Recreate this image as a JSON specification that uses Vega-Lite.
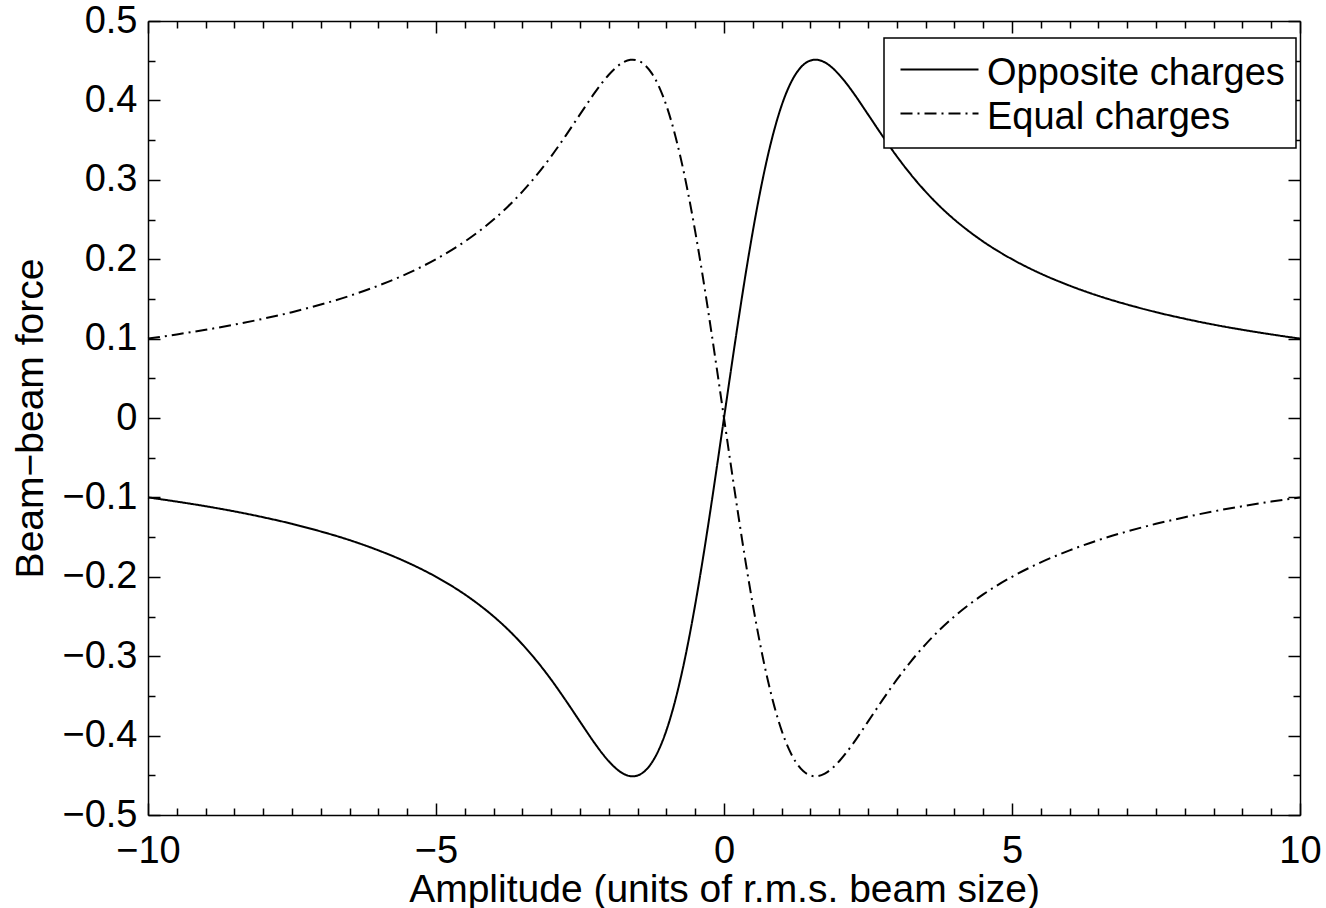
{
  "$schema": "https://vega.github.io/schema/vega-lite/v6.json",
  "width": 1152,
  "height": 794,
  "autosize": {"type": "none"},
  "padding": {"left": 148, "top": 21, "right": 26, "bottom": 93},
  "background": "white",
  "datasets": {
    "curves": [
      {"x": -10, "y": -0.1, "s": "Opposite charges"},
      {"x": -9.5, "y": -0.1053, "s": "Opposite charges"},
      {"x": -9, "y": -0.1111, "s": "Opposite charges"},
      {"x": -8.5, "y": -0.1176, "s": "Opposite charges"},
      {"x": -8, "y": -0.125, "s": "Opposite charges"},
      {"x": -7.5, "y": -0.1333, "s": "Opposite charges"},
      {"x": -7, "y": -0.1429, "s": "Opposite charges"},
      {"x": -6.5, "y": -0.1538, "s": "Opposite charges"},
      {"x": -6, "y": -0.1667, "s": "Opposite charges"},
      {"x": -5.5, "y": -0.1818, "s": "Opposite charges"},
      {"x": -5, "y": -0.2, "s": "Opposite charges"},
      {"x": -4.5, "y": -0.2222, "s": "Opposite charges"},
      {"x": -4.25, "y": -0.2353, "s": "Opposite charges"},
      {"x": -4, "y": -0.2499, "s": "Opposite charges"},
      {"x": -3.75, "y": -0.2664, "s": "Opposite charges"},
      {"x": -3.5, "y": -0.2851, "s": "Opposite charges"},
      {"x": -3.25, "y": -0.3061, "s": "Opposite charges"},
      {"x": -3, "y": -0.3296, "s": "Opposite charges"},
      {"x": -2.75, "y": -0.3554, "s": "Opposite charges"},
      {"x": -2.5, "y": -0.3824, "s": "Opposite charges"},
      {"x": -2.25, "y": -0.4091, "s": "Opposite charges"},
      {"x": -2.125, "y": -0.4214, "s": "Opposite charges"},
      {"x": -2, "y": -0.4323, "s": "Opposite charges"},
      {"x": -1.875, "y": -0.4414, "s": "Opposite charges"},
      {"x": -1.75, "y": -0.4479, "s": "Opposite charges"},
      {"x": -1.625, "y": -0.4511, "s": "Opposite charges"},
      {"x": -1.585, "y": -0.4513, "s": "Opposite charges"},
      {"x": -1.5, "y": -0.4502, "s": "Opposite charges"},
      {"x": -1.375, "y": -0.4447, "s": "Opposite charges"},
      {"x": -1.25, "y": -0.4337, "s": "Opposite charges"},
      {"x": -1.125, "y": -0.4168, "s": "Opposite charges"},
      {"x": -1, "y": -0.3935, "s": "Opposite charges"},
      {"x": -0.875, "y": -0.3635, "s": "Opposite charges"},
      {"x": -0.75, "y": -0.3269, "s": "Opposite charges"},
      {"x": -0.625, "y": -0.2839, "s": "Opposite charges"},
      {"x": -0.5, "y": -0.235, "s": "Opposite charges"},
      {"x": -0.375, "y": -0.1811, "s": "Opposite charges"},
      {"x": -0.25, "y": -0.1231, "s": "Opposite charges"},
      {"x": -0.125, "y": -0.0623, "s": "Opposite charges"},
      {"x": 0, "y": 0, "s": "Opposite charges"},
      {"x": 0.125, "y": 0.0623, "s": "Opposite charges"},
      {"x": 0.25, "y": 0.1231, "s": "Opposite charges"},
      {"x": 0.375, "y": 0.1811, "s": "Opposite charges"},
      {"x": 0.5, "y": 0.235, "s": "Opposite charges"},
      {"x": 0.625, "y": 0.2839, "s": "Opposite charges"},
      {"x": 0.75, "y": 0.3269, "s": "Opposite charges"},
      {"x": 0.875, "y": 0.3635, "s": "Opposite charges"},
      {"x": 1, "y": 0.3935, "s": "Opposite charges"},
      {"x": 1.125, "y": 0.4168, "s": "Opposite charges"},
      {"x": 1.25, "y": 0.4337, "s": "Opposite charges"},
      {"x": 1.375, "y": 0.4447, "s": "Opposite charges"},
      {"x": 1.5, "y": 0.4502, "s": "Opposite charges"},
      {"x": 1.585, "y": 0.4513, "s": "Opposite charges"},
      {"x": 1.625, "y": 0.4511, "s": "Opposite charges"},
      {"x": 1.75, "y": 0.4479, "s": "Opposite charges"},
      {"x": 1.875, "y": 0.4414, "s": "Opposite charges"},
      {"x": 2, "y": 0.4323, "s": "Opposite charges"},
      {"x": 2.125, "y": 0.4214, "s": "Opposite charges"},
      {"x": 2.25, "y": 0.4091, "s": "Opposite charges"},
      {"x": 2.5, "y": 0.3824, "s": "Opposite charges"},
      {"x": 2.75, "y": 0.3554, "s": "Opposite charges"},
      {"x": 3, "y": 0.3296, "s": "Opposite charges"},
      {"x": 3.25, "y": 0.3061, "s": "Opposite charges"},
      {"x": 3.5, "y": 0.2851, "s": "Opposite charges"},
      {"x": 3.75, "y": 0.2664, "s": "Opposite charges"},
      {"x": 4, "y": 0.2499, "s": "Opposite charges"},
      {"x": 4.25, "y": 0.2353, "s": "Opposite charges"},
      {"x": 4.5, "y": 0.2222, "s": "Opposite charges"},
      {"x": 5, "y": 0.2, "s": "Opposite charges"},
      {"x": 5.5, "y": 0.1818, "s": "Opposite charges"},
      {"x": 6, "y": 0.1667, "s": "Opposite charges"},
      {"x": 6.5, "y": 0.1538, "s": "Opposite charges"},
      {"x": 7, "y": 0.1429, "s": "Opposite charges"},
      {"x": 7.5, "y": 0.1333, "s": "Opposite charges"},
      {"x": 8, "y": 0.125, "s": "Opposite charges"},
      {"x": 8.5, "y": 0.1176, "s": "Opposite charges"},
      {"x": 9, "y": 0.1111, "s": "Opposite charges"},
      {"x": 9.5, "y": 0.1053, "s": "Opposite charges"},
      {"x": 10, "y": 0.1, "s": "Opposite charges"},
      {"x": -10, "y": 0.1, "s": "Equal charges"},
      {"x": -9.5, "y": 0.1053, "s": "Equal charges"},
      {"x": -9, "y": 0.1111, "s": "Equal charges"},
      {"x": -8.5, "y": 0.1176, "s": "Equal charges"},
      {"x": -8, "y": 0.125, "s": "Equal charges"},
      {"x": -7.5, "y": 0.1333, "s": "Equal charges"},
      {"x": -7, "y": 0.1429, "s": "Equal charges"},
      {"x": -6.5, "y": 0.1538, "s": "Equal charges"},
      {"x": -6, "y": 0.1667, "s": "Equal charges"},
      {"x": -5.5, "y": 0.1818, "s": "Equal charges"},
      {"x": -5, "y": 0.2, "s": "Equal charges"},
      {"x": -4.5, "y": 0.2222, "s": "Equal charges"},
      {"x": -4.25, "y": 0.2353, "s": "Equal charges"},
      {"x": -4, "y": 0.2499, "s": "Equal charges"},
      {"x": -3.75, "y": 0.2664, "s": "Equal charges"},
      {"x": -3.5, "y": 0.2851, "s": "Equal charges"},
      {"x": -3.25, "y": 0.3061, "s": "Equal charges"},
      {"x": -3, "y": 0.3296, "s": "Equal charges"},
      {"x": -2.75, "y": 0.3554, "s": "Equal charges"},
      {"x": -2.5, "y": 0.3824, "s": "Equal charges"},
      {"x": -2.25, "y": 0.4091, "s": "Equal charges"},
      {"x": -2.125, "y": 0.4214, "s": "Equal charges"},
      {"x": -2, "y": 0.4323, "s": "Equal charges"},
      {"x": -1.875, "y": 0.4414, "s": "Equal charges"},
      {"x": -1.75, "y": 0.4479, "s": "Equal charges"},
      {"x": -1.625, "y": 0.4511, "s": "Equal charges"},
      {"x": -1.585, "y": 0.4513, "s": "Equal charges"},
      {"x": -1.5, "y": 0.4502, "s": "Equal charges"},
      {"x": -1.375, "y": 0.4447, "s": "Equal charges"},
      {"x": -1.25, "y": 0.4337, "s": "Equal charges"},
      {"x": -1.125, "y": 0.4168, "s": "Equal charges"},
      {"x": -1, "y": 0.3935, "s": "Equal charges"},
      {"x": -0.875, "y": 0.3635, "s": "Equal charges"},
      {"x": -0.75, "y": 0.3269, "s": "Equal charges"},
      {"x": -0.625, "y": 0.2839, "s": "Equal charges"},
      {"x": -0.5, "y": 0.235, "s": "Equal charges"},
      {"x": -0.375, "y": 0.1811, "s": "Equal charges"},
      {"x": -0.25, "y": 0.1231, "s": "Equal charges"},
      {"x": -0.125, "y": 0.0623, "s": "Equal charges"},
      {"x": 0, "y": 0, "s": "Equal charges"},
      {"x": 0.125, "y": -0.0623, "s": "Equal charges"},
      {"x": 0.25, "y": -0.1231, "s": "Equal charges"},
      {"x": 0.375, "y": -0.1811, "s": "Equal charges"},
      {"x": 0.5, "y": -0.235, "s": "Equal charges"},
      {"x": 0.625, "y": -0.2839, "s": "Equal charges"},
      {"x": 0.75, "y": -0.3269, "s": "Equal charges"},
      {"x": 0.875, "y": -0.3635, "s": "Equal charges"},
      {"x": 1, "y": -0.3935, "s": "Equal charges"},
      {"x": 1.125, "y": -0.4168, "s": "Equal charges"},
      {"x": 1.25, "y": -0.4337, "s": "Equal charges"},
      {"x": 1.375, "y": -0.4447, "s": "Equal charges"},
      {"x": 1.5, "y": -0.4502, "s": "Equal charges"},
      {"x": 1.585, "y": -0.4513, "s": "Equal charges"},
      {"x": 1.625, "y": -0.4511, "s": "Equal charges"},
      {"x": 1.75, "y": -0.4479, "s": "Equal charges"},
      {"x": 1.875, "y": -0.4414, "s": "Equal charges"},
      {"x": 2, "y": -0.4323, "s": "Equal charges"},
      {"x": 2.125, "y": -0.4214, "s": "Equal charges"},
      {"x": 2.25, "y": -0.4091, "s": "Equal charges"},
      {"x": 2.5, "y": -0.3824, "s": "Equal charges"},
      {"x": 2.75, "y": -0.3554, "s": "Equal charges"},
      {"x": 3, "y": -0.3296, "s": "Equal charges"},
      {"x": 3.25, "y": -0.3061, "s": "Equal charges"},
      {"x": 3.5, "y": -0.2851, "s": "Equal charges"},
      {"x": 3.75, "y": -0.2664, "s": "Equal charges"},
      {"x": 4, "y": -0.2499, "s": "Equal charges"},
      {"x": 4.25, "y": -0.2353, "s": "Equal charges"},
      {"x": 4.5, "y": -0.2222, "s": "Equal charges"},
      {"x": 5, "y": -0.2, "s": "Equal charges"},
      {"x": 5.5, "y": -0.1818, "s": "Equal charges"},
      {"x": 6, "y": -0.1667, "s": "Equal charges"},
      {"x": 6.5, "y": -0.1538, "s": "Equal charges"},
      {"x": 7, "y": -0.1429, "s": "Equal charges"},
      {"x": 7.5, "y": -0.1333, "s": "Equal charges"},
      {"x": 8, "y": -0.125, "s": "Equal charges"},
      {"x": 8.5, "y": -0.1176, "s": "Equal charges"},
      {"x": 9, "y": -0.1111, "s": "Equal charges"},
      {"x": 9.5, "y": -0.1053, "s": "Equal charges"},
      {"x": 10, "y": -0.1, "s": "Equal charges"}
    ]
  },
  "resolve": {"axis": {"x": "independent", "y": "independent"}},
  "layer": [
    {
      "data": {"name": "curves"},
      "mark": {"type": "line", "color": "black", "strokeWidth": 2, "interpolate": "monotone"},
      "encoding": {
        "x": {
          "field": "x", "type": "quantitative",
          "scale": {"domain": [-10, 10], "nice": false, "zero": false},
          "axis": {
            "orient": "bottom", "values": [-10, -5, 0, 5, 10], "tickSize": -12,
            "labelPadding": 29, "labelFlush": false, "labelOverlap": false, "labelBound": false,
            "domain": true, "title": "Amplitude (units of r.m.s. beam size)", "titlePadding": 0
          }
        },
        "y": {
          "field": "y", "type": "quantitative",
          "scale": {"domain": [-0.5, 0.5], "nice": false, "zero": false},
          "axis": {
            "orient": "left", "values": [-0.5, -0.4, -0.3, -0.2, -0.1, 0, 0.1, 0.2, 0.3, 0.4, 0.5],
            "format": ".1~f", "tickSize": -12, "labelPadding": 23,
            "labelFlush": false, "labelOverlap": false, "labelBound": false,
            "domain": true, "title": "Beam−beam force", "titlePadding": 11
          }
        },
        "strokeDash": {
          "field": "s", "type": "nominal",
          "scale": {"domain": ["Opposite charges", "Equal charges"], "range": [[1, 0], [12, 5, 2, 5]]},
          "legend": {
            "orient": "none", "legendX": 736, "legendY": 17, "title": null,
            "fillColor": "white", "strokeColor": "black",
            "padding": 11, "labelFont": "Liberation Sans", "labelFontSize": 38, "labelColor": "black",
            "labelLimit": 0, "labelOffset": 27, "rowPadding": -2,
            "symbolType": "M-2,0H2", "symbolSize": 1521, "symbolStrokeWidth": 2, "symbolOffset": 24,
            "symbolStrokeColor": "black", "cornerRadius": 0,
            "encode": {
              "legend": {"update": {"strokeWidth": {"value": 1.5}}},
              "labels": {"update": {"dy": {"value": 4}}}
            }
          }
        }
      }
    },
    {
      "data": {"values": []},
      "mark": {"type": "point"},
      "encoding": {
        "x": {
          "field": "x", "type": "quantitative",
          "axis": {
            "orient": "bottom", "values": [-9.5, -9, -8.5, -8, -7.5, -7, -6.5, -6, -5.5, -4.5, -4, -3.5, -3, -2.5, -2, -1.5, -1, -0.5, 0.5, 1, 1.5, 2, 2.5, 3, 3.5, 4, 4.5, 5.5, 6, 6.5, 7, 7.5, 8, 8.5, 9, 9.5],
            "tickSize": -7, "labels": false, "domain": false, "title": null
          }
        },
        "y": {
          "field": "y", "type": "quantitative",
          "axis": {
            "orient": "left", "values": [-0.45, -0.35, -0.25, -0.15, -0.05, 0.05, 0.15, 0.25, 0.35, 0.45],
            "tickSize": -7, "labels": false, "domain": false, "title": null
          }
        }
      }
    },
    {
      "data": {"values": []},
      "mark": {"type": "point"},
      "encoding": {
        "x": {
          "field": "x", "type": "quantitative",
          "axis": {
            "orient": "top", "values": [-10, -5, 0, 5, 10],
            "tickSize": -12, "labels": false, "domain": true, "title": null
          }
        },
        "y": {
          "field": "y", "type": "quantitative",
          "axis": {
            "orient": "right", "values": [-0.5, -0.4, -0.3, -0.2, -0.1, 0, 0.1, 0.2, 0.3, 0.4, 0.5],
            "tickSize": -12, "labels": false, "domain": true, "title": null
          }
        }
      }
    },
    {
      "data": {"values": []},
      "mark": {"type": "point"},
      "encoding": {
        "x": {
          "field": "x", "type": "quantitative",
          "axis": {
            "orient": "top", "values": [-9.5, -9, -8.5, -8, -7.5, -7, -6.5, -6, -5.5, -4.5, -4, -3.5, -3, -2.5, -2, -1.5, -1, -0.5, 0.5, 1, 1.5, 2, 2.5, 3, 3.5, 4, 4.5, 5.5, 6, 6.5, 7, 7.5, 8, 8.5, 9, 9.5],
            "tickSize": -7, "labels": false, "domain": false, "title": null
          }
        },
        "y": {
          "field": "y", "type": "quantitative",
          "axis": {
            "orient": "right", "values": [-0.45, -0.35, -0.25, -0.15, -0.05, 0.05, 0.15, 0.25, 0.35, 0.45],
            "tickSize": -7, "labels": false, "domain": false, "title": null
          }
        }
      }
    }
  ],
  "config": {
    "font": "Liberation Sans",
    "view": {"stroke": null},
    "axis": {
      "grid": false,
      "labelFont": "Liberation Sans", "labelFontSize": 38, "labelColor": "black",
      "titleFont": "Liberation Sans", "titleFontSize": 39, "titleFontWeight": "normal", "titleColor": "black",
      "tickColor": "black", "tickWidth": 1.5, "domainColor": "black", "domainWidth": 1.5
    }
  }
}
